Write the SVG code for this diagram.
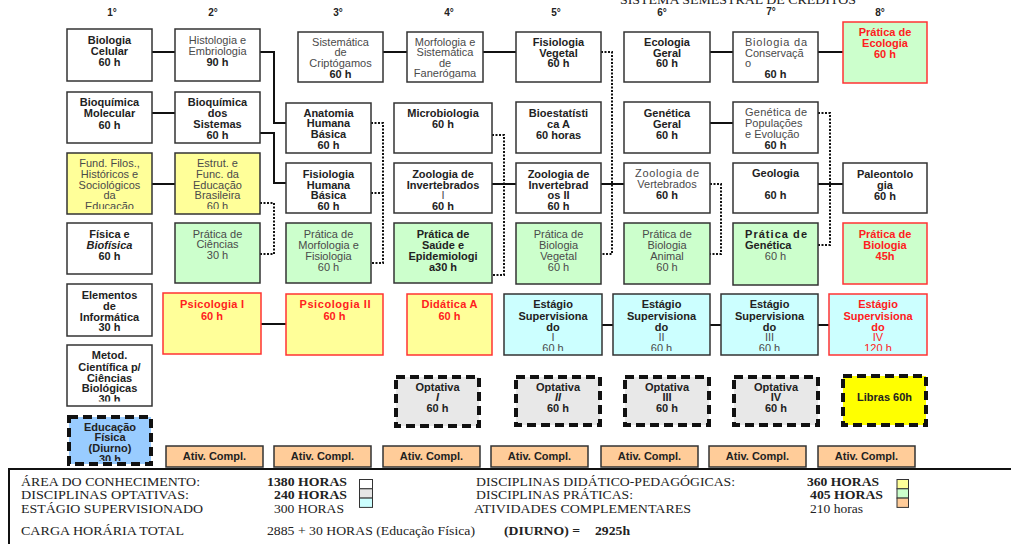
<svg xmlns="http://www.w3.org/2000/svg" width="1011" height="544" viewBox="0 0 1011 544">
<style>
.w{fill:#fff;stroke:#333;stroke-width:1.5}
.y{fill:#ffff99;stroke:#333;stroke-width:1.5}
.g{fill:#ccffcc;stroke:#333;stroke-width:1.5}
.c{fill:#ccffff;stroke:#333;stroke-width:1.5}
.o{fill:#ffcc99;stroke:#333;stroke-width:1.5}
.rb{stroke:#ff3333}
.dsh{stroke:#111;stroke-width:4;stroke-dasharray:9 5}
.b{font-family:"Liberation Sans",Arial,sans-serif;font-size:11px;font-weight:bold;fill:#222;text-anchor:middle}
.n{font-family:"Liberation Sans",Arial,sans-serif;font-size:11px;fill:#4a4a4a;text-anchor:middle}
.st{text-anchor:start}
.r{fill:#ff2020}
.i{font-style:italic}
.hd{font-family:"Liberation Sans",Arial,sans-serif;font-size:10px;font-weight:bold;fill:#222;text-anchor:middle}
.lg{font-family:"Liberation Serif","Times New Roman",serif;font-size:13px;fill:#222}
.lb{font-weight:bold}
.s{fill:none;stroke:#111;stroke-width:2}
.d{fill:none;stroke:#111;stroke-width:2;stroke-dasharray:2 1.5}
</style>
<defs>
<clipPath id="cFF" clipPathUnits="userSpaceOnUse"><rect x="67" y="153" width="85" height="56"/></clipPath>
<clipPath id="cEE" clipPathUnits="userSpaceOnUse"><rect x="175" y="153" width="85" height="56"/></clipPath>
<clipPath id="cMC" clipPathUnits="userSpaceOnUse"><rect x="67" y="345" width="85" height="56.5"/></clipPath>
<clipPath id="cEF" clipPathUnits="userSpaceOnUse"><rect x="67" y="415" width="86" height="46"/></clipPath>
<clipPath id="cMS" clipPathUnits="userSpaceOnUse"><rect x="407" y="32" width="76" height="46.5"/></clipPath>
<clipPath id="cES" clipPathUnits="userSpaceOnUse"><rect x="500" y="294" width="430" height="57"/></clipPath>
</defs>
<rect width="1011" height="544" fill="#fff"/>
<text class="lg" x="620" y="4" font-size="12" textLength="236" lengthAdjust="spacingAndGlyphs">SISTEMA SEMESTRAL DE CRÉDITOS</text>
<g id="headers">
<text class="hd" x="112" y="16">1°</text>
<text class="hd" x="213" y="16">2°</text>
<text class="hd" x="338" y="16">3°</text>
<text class="hd" x="449" y="16">4°</text>
<text class="hd" x="556" y="16">5°</text>
<text class="hd" x="662" y="16">6°</text>
<text class="hd" x="771" y="15">7°</text>
<text class="hd" x="880" y="16">8°</text>
</g>
<g id="connectors">
<path class="s" d="M152 52H175M152 113H175M152 184H175M260 52H274V123H286M260 133H274V183H286M383 52H407M483 52H516M492 184H516M601 184H624M710 52H733M710 123H733M818 52H843M818 184H843M261 324H286M602 325H613M710 325H721M818 325H829"/>
<path class="d" d="M260 203H274V254H260M371 123H383V263H371M371 193H383M492 135H504V275H492M601 52H612V254H601M710 184H721V254H710M818 113H830V245H818"/>
</g>
<!-- column 1 -->
<g id="bio-celular"><rect class="w" x="67" y="29" width="85" height="52"/><text class="b" x="109.5" y="44">Biologia</text><text class="b" x="109.5" y="55">Celular</text><text class="b" x="109.5" y="66">60 h</text></g>
<g id="bioq-molecular"><rect class="w" x="67" y="92" width="85" height="51"/><text class="b" x="109.5" y="106">Bioquímica</text><text class="b" x="109.5" y="117">Molecular</text><text class="b" x="109.5" y="129">60 h</text></g>
<g id="fund-filos"><rect class="y" x="67" y="153" width="85" height="61"/><g clip-path="url(#cFF)"><text class="n" x="109.5" y="167">Fund. Filos.,</text><text class="n" x="109.5" y="178">Históricos e</text><text class="n" x="109.5" y="189">Sociológicos</text><text class="n" x="109.5" y="199">da</text><text class="n" x="109.5" y="210">Educação</text></g></g>
<g id="fisica"><rect class="w" x="67" y="223" width="85" height="51"/><text class="b" x="109.5" y="238">Física e</text><text class="b i" x="109.5" y="249">Biofísica</text><text class="b" x="109.5" y="260">60 h</text></g>
<g id="informatica"><rect class="w" x="67" y="284" width="85" height="52"/><text class="b" x="109.5" y="299">Elementos</text><text class="b" x="109.5" y="310">de</text><text class="b" x="109.5" y="321">Informática</text><text class="b" x="109.5" y="331">30 h</text></g>
<g id="metod"><rect class="w" x="67" y="345" width="85" height="61"/><g clip-path="url(#cMC)"><text class="b" x="109.5" y="359">Metod.</text><text class="b" x="109.5" y="371">Científica p/</text><text class="b" x="109.5" y="382">Ciências</text><text class="b" x="109.5" y="392">Biológicas</text><text class="b" x="109.5" y="403">30 h</text></g></g>
<g id="ed-fisica"><rect class="dsh" x="69" y="417" width="82" height="47" fill="#99ccff"/><g clip-path="url(#cEF)"><text class="b" x="110" y="431">Educação</text><text class="b" x="110" y="441">Física</text><text class="b" x="110" y="452">(Diurno)</text><text class="b" x="110" y="463">30 h</text></g></g>
<!-- column 2 -->
<g id="histologia"><rect class="w" x="175" y="29" width="85" height="52"/><text class="n" x="217.5" y="44">Histologia e</text><text class="n" x="217.5" y="55">Embriologia</text><text class="b" x="217.5" y="66">90 h</text></g>
<g id="bioq-sistemas"><rect class="w" x="175" y="92" width="85" height="51"/><text class="b" x="217.5" y="106">Bioquímica</text><text class="b" x="217.5" y="117">dos</text><text class="b" x="217.5" y="128">Sistemas</text><text class="b" x="217.5" y="139">60 h</text></g>
<g id="estrut"><rect class="y" x="175" y="153" width="85" height="61"/><g clip-path="url(#cEE)"><text class="n" x="217.5" y="167">Estrut. e</text><text class="n" x="217.5" y="178">Func. da</text><text class="n" x="217.5" y="189">Educação</text><text class="n" x="217.5" y="199">Brasileira</text><text class="n" x="217.5" y="210">60 h</text></g></g>
<g id="pratica-ciencias"><rect class="g" x="175" y="223" width="85" height="60"/><text class="n" x="217.5" y="238">Prática de</text><text class="n" x="217.5" y="248">Ciências</text><text class="n" x="217.5" y="259">30 h</text></g>
<g id="psicologia1"><rect class="y rb" x="163" y="293" width="98" height="61"/><text class="b r" x="212" y="308" textLength="64">Psicologia I</text><text class="b r" x="212" y="320">60 h</text></g>
<!-- column 3 -->
<g id="sistematica"><rect class="w" x="298" y="32" width="85" height="50"/><text class="n" x="340.5" y="46">Sistemática</text><text class="n" x="340.5" y="56">de</text><text class="n" x="340.5" y="67">Criptógamos</text><text class="b" x="340.5" y="78">60 h</text></g>
<g id="anatomia"><rect class="w" x="286" y="103" width="85" height="50"/><text class="b" x="328.5" y="117">Anatomia</text><text class="b" x="328.5" y="127">Humana</text><text class="b" x="328.5" y="138">Básica</text><text class="b" x="328.5" y="149">60 h</text></g>
<g id="fisiologia-humana"><rect class="w" x="286" y="163" width="85" height="50"/><text class="b" x="328.5" y="178">Fisiologia</text><text class="b" x="328.5" y="189">Humana</text><text class="b" x="328.5" y="199">Básica</text><text class="b" x="328.5" y="210">60 h</text></g>
<g id="pratica-morfologia"><rect class="g" x="286" y="223" width="85" height="60"/><text class="n" x="328.5" y="238">Prática de</text><text class="n" x="328.5" y="249">Morfologia e</text><text class="n" x="328.5" y="260">Fisiologia</text><text class="n" x="328.5" y="271">60 h</text></g>
<g id="psicologia2"><rect class="y rb" x="286" y="294" width="97" height="61"/><text class="b r" x="335" y="308" textLength="71">Psicologia II</text><text class="b r" x="334.5" y="320">60 h</text></g>
<!-- column 4 -->
<g id="morfologia"><rect class="w" x="407" y="32" width="76" height="50"/><g clip-path="url(#cMS)"><text class="n" x="445" y="46">Morfologia e</text><text class="n" x="445" y="56">Sistemática</text><text class="n" x="445" y="67">de</text><text class="n" x="445" y="77">Fanerógama</text></g></g>
<g id="microbiologia"><rect class="w" x="394" y="103" width="98" height="50"/><text class="b" x="443" y="117">Microbiologia</text><text class="b" x="443" y="128">60 h</text></g>
<g id="zoologia-invert1"><rect class="w" x="394" y="163" width="98" height="50"/><text class="b" x="443" y="178">Zoologia de</text><text class="b" x="443" y="189">Invertebrados</text><text class="n" x="443" y="199">I</text><text class="b" x="443" y="210">60 h</text></g>
<g id="pratica-saude"><rect class="g" x="394" y="223" width="98" height="60"/><text class="b" x="443" y="238">Prática de</text><text class="b" x="443" y="249">Saúde e</text><text class="b" x="443" y="260">Epidemiologi</text><text class="b" x="443" y="271">a30 h</text></g>
<g id="didatica"><rect class="y rb" x="407" y="294" width="85" height="61"/><text class="b r" x="449.5" y="308" textLength="56">Didática A</text><text class="b r" x="449.5" y="320">60 h</text></g>
<g id="optativa1"><rect class="dsh" x="396" y="377" width="83" height="49" fill="#e8e8e8"/><text class="b" x="437.5" y="391">Optativa</text><text class="b i" x="437.5" y="401">I</text><text class="b" x="437.5" y="412">60 h</text></g>
<!-- column 5 -->
<g id="fisiologia-vegetal"><rect class="w" x="516" y="32" width="85" height="50"/><text class="b" x="558.5" y="46">Fisiologia</text><text class="b" x="558.5" y="57">Vegetal</text><text class="b" x="558.5" y="67">60 h</text></g>
<g id="bioestatistica"><rect class="w" x="516" y="102" width="85" height="51"/><text class="b" x="558.5" y="117">Bioestatísti</text><text class="b" x="558.5" y="128">ca A</text><text class="b" x="558.5" y="139">60 horas</text></g>
<g id="zoologia-invert2"><rect class="w" x="516" y="163" width="85" height="50"/><text class="b" x="558.5" y="178">Zoologia de</text><text class="b" x="558.5" y="189">Invertebrad</text><text class="b" x="558.5" y="199">os II</text><text class="b" x="558.5" y="210">60 h</text></g>
<g id="pratica-bio-vegetal"><rect class="g" x="516" y="223" width="85" height="61"/><text class="n" x="558.5" y="238">Prática de</text><text class="n" x="558.5" y="249">Biologia</text><text class="n" x="558.5" y="260">Vegetal</text><text class="n" x="558.5" y="271">60 h</text></g>
<g id="estagio1"><rect class="c" x="504" y="294" width="98" height="61"/><g clip-path="url(#cES)"><text class="b" x="553" y="308">Estágio</text><text class="b" x="553" y="320">Supervisiona</text><text class="b" x="553" y="331">do</text><text class="n" x="553" y="341">I</text><text class="n" x="553" y="352">60 h</text></g></g>
<g id="optativa2"><rect class="dsh" x="516" y="377" width="84" height="48" fill="#e8e8e8"/><text class="b" x="558" y="391">Optativa</text><text class="b i" x="558" y="401">II</text><text class="b" x="558" y="412">60 h</text></g>
<!-- column 6 -->
<g id="ecologia-geral"><rect class="w" x="624" y="32" width="86" height="50"/><text class="b" x="667" y="46">Ecologia</text><text class="b" x="667" y="57">Geral</text><text class="b" x="667" y="67">60 h</text></g>
<g id="genetica-geral"><rect class="w" x="624" y="102" width="86" height="51"/><text class="b" x="667" y="117">Genética</text><text class="b" x="667" y="128">Geral</text><text class="b" x="667" y="139">60 h</text></g>
<g id="zoologia-vert"><rect class="w" x="624" y="163" width="86" height="50"/><text class="n" x="667" y="177" textLength="64">Zoologia de</text><text class="n" x="667" y="188">Vertebrados</text><text class="b" x="667" y="199">60 h</text></g>
<g id="pratica-bio-animal"><rect class="g" x="624" y="223" width="86" height="61"/><text class="n" x="667" y="238">Prática de</text><text class="n" x="667" y="249">Biologia</text><text class="n" x="667" y="260">Animal</text><text class="n" x="667" y="271">60 h</text></g>
<g id="estagio2"><rect class="c" x="613" y="294" width="97" height="61"/><g clip-path="url(#cES)"><text class="b" x="661.5" y="308">Estágio</text><text class="b" x="661.5" y="320">Supervisiona</text><text class="b" x="661.5" y="331">do</text><text class="n" x="661.5" y="341">II</text><text class="n" x="661.5" y="352">60 h</text></g></g>
<g id="optativa3"><rect class="dsh" x="625" y="377" width="84" height="48" fill="#e8e8e8"/><text class="b" x="667" y="391">Optativa</text><text class="b" x="667" y="401">III</text><text class="b" x="667" y="412">60 h</text></g>
<!-- column 7 -->
<g id="bio-conservacao"><rect class="w" x="733" y="32" width="85" height="50"/><text class="n st" x="745" y="46" textLength="62">Biologia da</text><text class="n st" x="745" y="57">Conservaçã</text><text class="n st" x="745" y="67">o</text><text class="b" x="775.5" y="78">60 h</text></g>
<g id="genetica-populacoes"><rect class="w" x="733" y="102" width="85" height="51"/><text class="n st" x="745" y="116" textLength="62">Genética de</text><text class="n st" x="745" y="127">Populações</text><text class="n st" x="745" y="138">e Evolução</text><text class="b" x="775.5" y="149">60 h</text></g>
<g id="geologia"><rect class="w" x="733" y="163" width="85" height="50"/><text class="b" x="775.5" y="177">Geologia</text><text class="b" x="775.5" y="199">60 h</text></g>
<g id="pratica-genetica"><rect class="g" x="733" y="223" width="85" height="62"/><text class="b st" x="745" y="238" textLength="62">Prática de</text><text class="b st" x="745" y="249">Genética</text><text class="n" x="775.5" y="260">60 h</text></g>
<g id="estagio3"><rect class="c" x="721" y="294" width="97" height="61"/><g clip-path="url(#cES)"><text class="b" x="769.5" y="308">Estágio</text><text class="b" x="769.5" y="320">Supervisiona</text><text class="b" x="769.5" y="331">do</text><text class="n" x="769.5" y="341">III</text><text class="n" x="769.5" y="352">60 h</text></g></g>
<g id="optativa4"><rect class="dsh" x="734" y="377" width="84" height="48" fill="#e8e8e8"/><text class="b" x="776" y="391">Optativa</text><text class="b" x="776" y="401">IV</text><text class="b" x="776" y="412">60 h</text></g>
<!-- column 8 -->
<g id="pratica-ecologia"><rect class="g rb" x="843" y="22" width="84" height="61"/><text class="b r" x="885" y="36">Prática de</text><text class="b r" x="885" y="47">Ecologia</text><text class="b r" x="885" y="58">60 h</text></g>
<g id="paleontologia"><rect class="w" x="843" y="163" width="84" height="50"/><text class="b" x="885" y="178">Paleontolo</text><text class="b" x="885" y="189">gia</text><text class="b" x="885" y="200">60 h</text></g>
<g id="pratica-biologia"><rect class="g rb" x="843" y="223" width="84" height="61"/><text class="b r" x="885" y="238">Prática de</text><text class="b r" x="885" y="249">Biologia</text><text class="b r" x="885" y="260">45h</text></g>
<g id="estagio4"><rect class="c rb" x="829" y="294" width="98" height="61"/><g clip-path="url(#cES)"><text class="b r" x="878" y="308">Estágio</text><text class="b r" x="878" y="320">Supervisiona</text><text class="b r" x="878" y="331">do</text><text class="n r" x="878" y="341">IV</text><text class="n r" x="878" y="352">120 h</text></g></g>
<g id="libras"><rect class="dsh" x="843" y="376" width="83" height="49" fill="#ffff00"/><text class="b" x="884.5" y="401">Libras 60h</text></g>
<!-- ativ compl -->
<g id="ativ1"><rect class="o" x="166" y="446" width="97" height="21"/><text class="b" x="214.5" y="460">Ativ. Compl.</text></g>
<g id="ativ2"><rect class="o" x="274" y="446" width="97" height="21"/><text class="b" x="322.5" y="460">Ativ. Compl.</text></g>
<g id="ativ3"><rect class="o" x="383" y="446" width="97" height="21"/><text class="b" x="431.5" y="460">Ativ. Compl.</text></g>
<g id="ativ4"><rect class="o" x="491" y="446" width="97" height="21"/><text class="b" x="539.5" y="460">Ativ. Compl.</text></g>
<g id="ativ5"><rect class="o" x="601" y="446" width="97" height="21"/><text class="b" x="649.5" y="460">Ativ. Compl.</text></g>
<g id="ativ6"><rect class="o" x="709" y="446" width="97" height="21"/><text class="b" x="757.5" y="460">Ativ. Compl.</text></g>
<g id="ativ7"><rect class="o" x="818" y="446" width="97" height="21"/><text class="b" x="866.5" y="460">Ativ. Compl.</text></g>
<!-- legend -->
<g id="legend">
<rect x="9" y="469" width="1010" height="90" fill="#fff" stroke="#111" stroke-width="2"/>
<text class="lg" x="21" y="486" textLength="179" lengthAdjust="spacingAndGlyphs">ÁREA DO CONHECIMENTO:</text>
<text class="lg" x="21" y="499" textLength="168" lengthAdjust="spacingAndGlyphs">DISCIPLINAS OPTATIVAS:</text>
<text class="lg" x="21" y="513" textLength="182" lengthAdjust="spacingAndGlyphs">ESTÁGIO SUPERVISIONADO</text>
<text class="lg" x="21" y="535" textLength="163" lengthAdjust="spacingAndGlyphs">CARGA HORÁRIA TOTAL</text>
<text class="lg lb" x="267" y="486" textLength="80" lengthAdjust="spacingAndGlyphs">1380 HORAS</text>
<text class="lg lb" x="274" y="499" textLength="73" lengthAdjust="spacingAndGlyphs">240 HORAS</text>
<text class="lg" x="274" y="513" textLength="70" lengthAdjust="spacingAndGlyphs">300 HORAS</text>
<text class="lg" x="267" y="535" textLength="208" lengthAdjust="spacingAndGlyphs">2885 + 30 HORAS (Educação Física)</text>
<rect x="359.5" y="479.5" width="13" height="9.3" fill="#fff" stroke="#333" stroke-width="1"/>
<rect x="359.5" y="488.8" width="13" height="9.3" fill="#e6e6e6" stroke="#333" stroke-width="1"/>
<rect x="359.5" y="498.1" width="13" height="9.3" fill="#ccffff" stroke="#333" stroke-width="1"/>
<text class="lg" x="476" y="486" textLength="259" lengthAdjust="spacingAndGlyphs">DISCIPLINAS DIDÁTICO-PEDAGÓGICAS:</text>
<text class="lg" x="476" y="499" textLength="157" lengthAdjust="spacingAndGlyphs">DISCIPLINAS PRÁTICAS:</text>
<text class="lg" x="474" y="513" textLength="217" lengthAdjust="spacingAndGlyphs">ATIVIDADES COMPLEMENTARES</text>
<text class="lg lb" x="504" y="535" textLength="76" lengthAdjust="spacingAndGlyphs">(DIURNO) =</text>
<text class="lg lb" x="595" y="535" textLength="35" lengthAdjust="spacingAndGlyphs">2925h</text>
<text class="lg lb" x="807" y="486" textLength="72" lengthAdjust="spacingAndGlyphs">360 HORAS</text>
<text class="lg lb" x="810" y="499" textLength="73" lengthAdjust="spacingAndGlyphs">405 HORAS</text>
<text class="lg" x="810" y="513" textLength="53" lengthAdjust="spacingAndGlyphs">210 horas</text>
<rect x="897" y="479.5" width="11.5" height="9.3" fill="#ffff99" stroke="#333" stroke-width="1"/>
<rect x="897" y="488.8" width="11.5" height="9.3" fill="#ccffcc" stroke="#333" stroke-width="1"/>
<rect x="897" y="498.1" width="11.5" height="9.3" fill="#ffcc99" stroke="#333" stroke-width="1"/>
</g>
</svg>
